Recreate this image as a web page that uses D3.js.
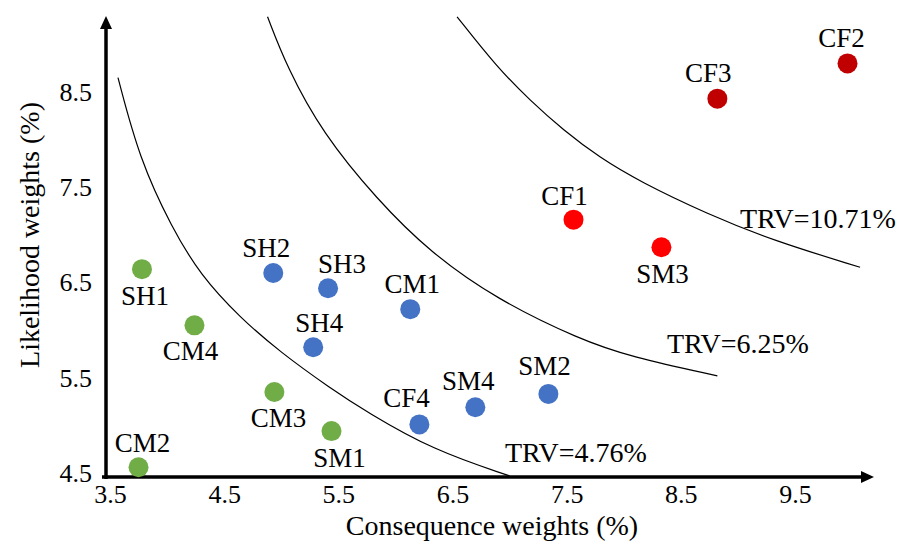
<!DOCTYPE html>
<html>
<head>
<meta charset="utf-8">
<script src="https://cdn.jsdelivr.net/npm/d3@7"></script>
<style>
  body { margin: 0; background: #fff; }
  svg { display: block; font-family: "Liberation Serif", "Times New Roman", serif; }
</style>
</head>
<body>
<div id="chart"></div>
<script>
// risk factors: consequence weight (x) and likelihood weight (y), in %
var names = ["SH1", "CM4", "CM3", "CM2", "SM1",
             "SH2", "SH3", "CM1", "SH4", "CF4", "SM4", "SM2",
             "CF1", "SM3", "CF3", "CF2"];
var consequence = [3.78, 4.24, 4.94, 3.75, 5.44,
                   4.93, 5.41, 6.13, 5.28, 6.21, 6.70, 7.34,
                   7.56, 8.33, 8.82, 9.96];
var likelihood = [6.64, 6.05, 5.35, 4.56, 4.94,
                  6.60, 6.44, 6.22, 5.82, 5.01, 5.19, 5.33,
                  7.16, 6.87, 8.43, 8.80];
var level = ["low", "low", "low", "low", "low",
             "mid", "mid", "mid", "mid", "mid", "mid", "mid",
             "high", "high", "top", "top"];

var xTicks = [3.5, 4.5, 5.5, 6.5, 7.5, 8.5, 9.5];
var yTicks = [4.5, 5.5, 6.5, 7.5, 8.5];

// iso-risk curves, points
var trvLabels = ["TRV=4.76%", "TRV=6.25%", "TRV=10.71%"];
var trvX = [
  [3.57, 3.76, 4.04, 4.29, 4.64, 4.99, 5.43, 5.75, 6.33, 7.00],
  [4.88, 5.05, 5.36, 5.84, 6.30, 6.89, 7.62, 8.06, 8.82],
  [6.54, 6.89, 7.18, 7.47, 7.79, 8.14, 8.73, 9.31, 10.07]
];
var trvY = [
  [8.65, 7.79, 7.08, 6.58, 6.13, 5.77, 5.39, 5.14, 4.74, 4.47],
  [9.29, 8.76, 8.07, 7.37, 6.82, 6.32, 5.90, 5.72, 5.52],
  [9.29, 8.76, 8.41, 8.10, 7.81, 7.56, 7.22, 6.94, 6.66]
];

var W = 902, H = 543;
var svg = d3.select("#chart").append("svg")
  .attr("width", W)
  .attr("height", H);

var x = d3.scaleLinear().domain([3.5, 9.5]).range([110, 795]);
var y = d3.scaleLinear().domain([4.5, 8.5]).range([473, 92]);

var colorScale = d3.scaleOrdinal()
  .domain(["low", "mid", "high", "top"])
  .range(["#70ad47", "#4472c4", "#ff0000", "#c00000"]);

// curves
var line = d3.line()
  .x(d => x(d[0]))
  .y(d => y(d[1]))
  .curve(d3.curveBasis);

trvX.forEach(function(xs, k) {
  svg.append("path")
    .attr("d", line(xs.map((v, i) => [v, trvY[k][i]])))
    .attr("fill", "none")
    .attr("stroke", "#000")
    .attr("stroke-width", 1.2);
});

// curve labels
var trvPos = [[505, 462], [667, 353], [740, 228]];
svg.selectAll(".trv")
  .data(trvLabels)
  .enter().append("text")
  .attr("class", "trv")
  .attr("x", (d, i) => trvPos[i][0])
  .attr("y", (d, i) => trvPos[i][1])
  .attr("font-size", "28px")
  .text(d => d);

// axes lines with arrows
var x0 = 106, yAxis = 477;
svg.append("line")
  .attr("x1", x0).attr("x2", x0)
  .attr("y1", yAxis + 2).attr("y2", 26)
  .attr("stroke", "#000").attr("stroke-width", 3.5);
svg.append("path")
  .attr("d", "M" + (x0 - 6) + ",29 L" + x0 + ",16 L" + (x0 + 6) + ",29 Z")
  .attr("fill", "#000");
svg.append("line")
  .attr("x1", 102).attr("x2", 864)
  .attr("y1", yAxis).attr("y2", yAxis)
  .attr("stroke", "#000").attr("stroke-width", 3.5);
svg.append("path")
  .attr("d", "M861," + (yAxis - 6) + " L874," + yAxis + " L861," + (yAxis + 6) + " Z")
  .attr("fill", "#000");

// tick labels
var gx = svg.append("g")
  .attr("transform", "translate(0," + (yAxis + 5) + ")")
  .call(d3.axisBottom(x).tickValues(xTicks).tickSize(0).tickFormat(d3.format(".1f")));
gx.select(".domain").remove();
gx.selectAll("text")
  .attr("font-family", "Liberation Serif")
  .attr("font-size", "26px")
  .attr("fill", "#000")
  .attr("dy", "0.71em");

var gy = svg.append("g")
  .attr("transform", "translate(" + 92 + ",0)")
  .call(d3.axisLeft(y).tickValues(yTicks).tickSize(0).tickFormat(d3.format(".1f")));
gy.select(".domain").remove();
gy.selectAll("text")
  .attr("font-family", "Liberation Serif")
  .attr("font-size", "26px")
  .attr("fill", "#000")
  .attr("x", 0);

// axis titles
svg.append("text")
  .attr("x", 492)
  .attr("y", 535)
  .attr("text-anchor", "middle")
  .attr("font-size", "28px")
  .text("Consequence weights (%)");

svg.append("text")
  .attr("transform", "translate(39,235) rotate(-90)")
  .attr("text-anchor", "middle")
  .attr("font-size", "28px")
  .text("Likelihood weights (%)");

// points
var points = names.map((n, i) => ({ name: n, cx: consequence[i], ly: likelihood[i], lvl: level[i] }));

svg.selectAll("circle")
  .data(points)
  .enter().append("circle")
  .attr("cx", d => x(d.cx))
  .attr("cy", d => y(d.ly))
  .attr("r", 10)
  .style("fill", d => colorScale(d.lvl));

// label offsets from the point centre
var labelOff = {
  SH1: [3, 36], CM4: [-4, 35], CM3: [4, 35], CM2: [4, -15], SM1: [8, 36],
  SH2: [-7, -16], SH3: [14, -15], CM1: [2, -16], SH4: [6, -15], CF4: [-13, -17],
  SM4: [-7, -17], SM2: [-4, -19], CF1: [-9, -15], SM3: [1, 36], CF3: [-9, -17], CF2: [-6, -16]
};

svg.selectAll(".label")
  .data(points)
  .enter().append("text")
  .attr("class", "label")
  .attr("x", d => x(d.cx) + labelOff[d.name][0])
  .attr("y", d => y(d.ly) + labelOff[d.name][1])
  .attr("text-anchor", "middle")
  .attr("font-size", "27px")
  .text(d => d.name);
</script>
</body>
</html>
